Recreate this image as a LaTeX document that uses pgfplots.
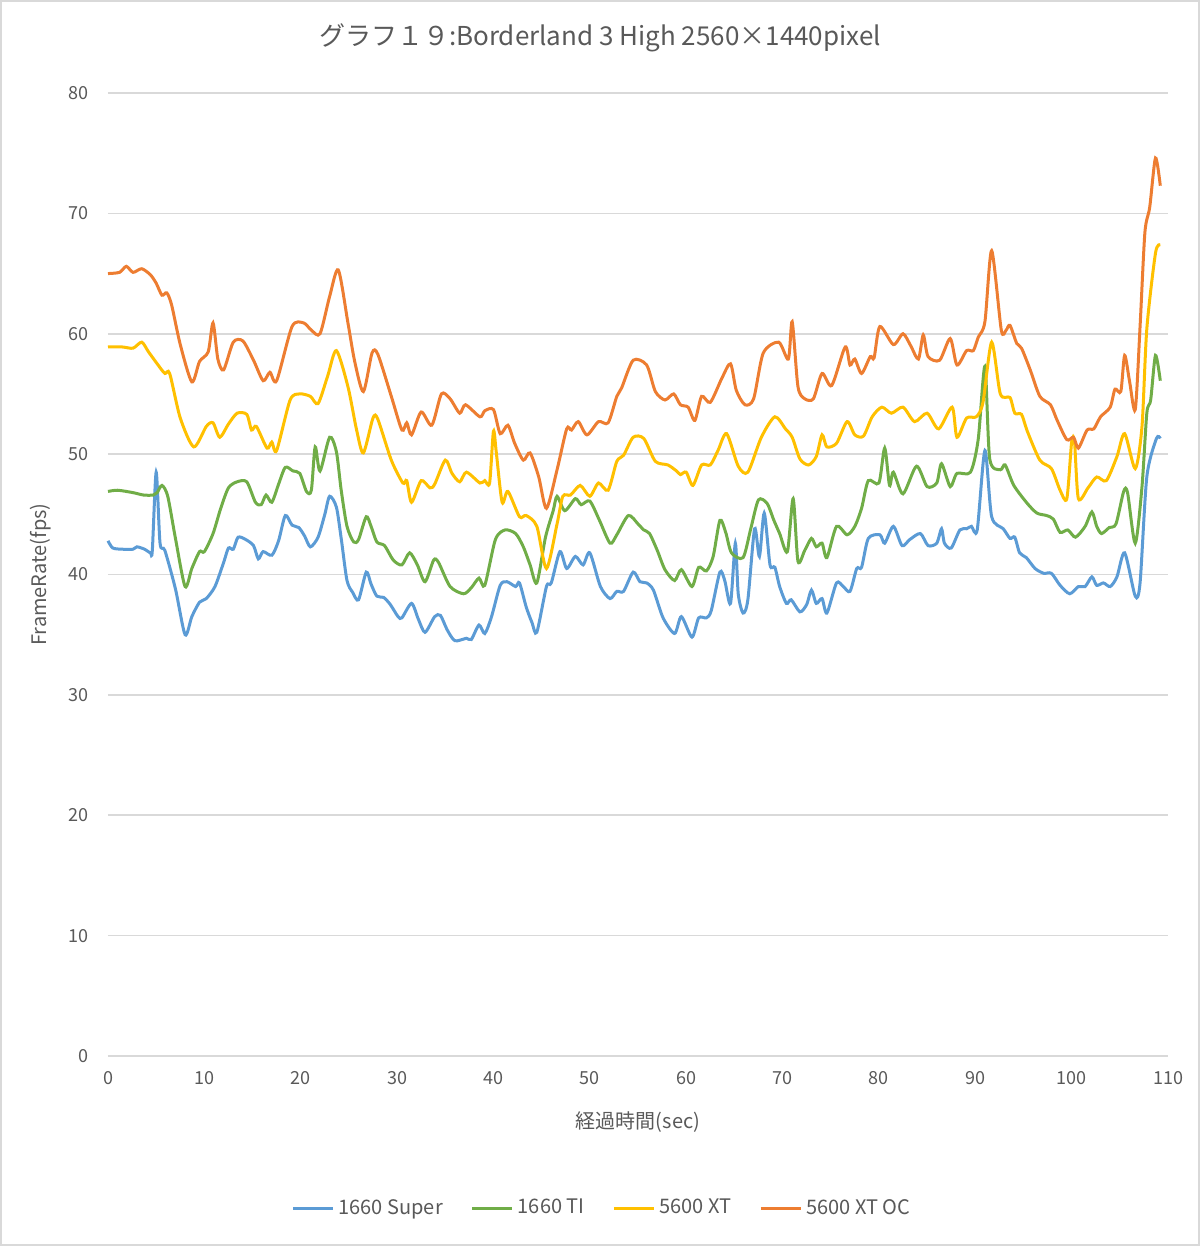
\documentclass[border=0pt]{standalone}
\usepackage{fontspec}
\setmainfont{Noto Sans CJK JP}
\usepackage{pgfplots}
\pgfplotsset{compat=1.18}

\definecolor{sBlue}{HTML}{5B9BD5}
\definecolor{sGreen}{HTML}{70AD47}
\definecolor{sYellow}{HTML}{FFC000}
\definecolor{sOrange}{HTML}{ED7D31}
\definecolor{txtGray}{HTML}{595959}
\definecolor{gridGray}{HTML}{D9D9D9}

\begin{document}
\begin{tikzpicture}
% 1 px of the reference = 0.5pt
\useasboundingbox (-54pt,-95pt) rectangle (546pt,528pt);
\draw[gridGray, line width=0.8pt] (-53.5pt,-94.5pt) rectangle (545.5pt,527.5pt);
\begin{axis}[
    at={(0pt,0pt)}, anchor=south west,
    scale only axis,
    width=530pt, height=481.5pt,
    xmin=0, xmax=110, ymin=0, ymax=80,
    xtick={0,10,...,110}, ytick={0,10,...,80},
    major tick length=0pt,
    axis x line*=bottom, axis y line*=left,
    x axis line style={draw=gridGray, line width=0.8pt, -},
    y axis line style={draw=none},
    ymajorgrids, grid style={gridGray, line width=0.8pt},
    /pgf/number format/assume math mode=true,
    ticklabel style={font=\fontsize{9}{10}\selectfont, text=txtGray},
    yticklabel style={xshift=-6pt},
    xticklabel style={yshift=-4pt},
    xlabel={経過時間(sec)},
    ylabel={FrameRate(fps)},
    label style={font=\fontsize{10}{11}\selectfont, text=txtGray},
    xlabel style={at={(axis description cs:0.5,-0.0685)}, anchor=center},
    ylabel style={at={(axis description cs:-0.064,0.5)}, anchor=center, rotate=0},
    legend columns=4,
    legend style={at={(axis description cs:0.467,-0.158)}, anchor=center, draw=none,
        font=\fontsize{10}{11}\selectfont, text=txtGray,
        /tikz/every even column/.append style={column sep=12pt}},
    legend image code/.code={\draw[#1, line width=1.5pt] (0pt,0pt) -- (20pt,0pt);},
    every axis plot/.append style={line width=1.5pt, smooth, tension=0.45, no markers},
    clip=false,
]
\addplot[sBlue] coordinates {
(0,42.8)(0.5,42.2)(1.5,42.1)(2.6,42.1)(3.0,42.3)(3.8,42.1)(4.4,41.8)(4.6,42.0)(5.0,48.5)(5.4,42.6)(5.9,42.0)(7.0,38.8)(8.0,35.0)(8.7,36.5)(9.5,37.7)(10.2,38.0)(11.1,39.0)(12.0,41.0)(12.5,42.2)(13.0,42.1)(13.5,43.1)(14.3,42.9)(15.1,42.4)(15.6,41.3)(16.1,41.9)(17.0,41.6)(17.7,42.8)(18.4,44.9)(19.1,44.1)(19.8,43.9)(20.4,43.2)(21.0,42.3)(21.8,43.1)(22.5,45.0)(23.0,46.5)(23.7,45.6)(24.2,43.0)(24.8,39.5)(25.4,38.5)(26.0,37.9)(26.8,40.2)(27.3,39.2)(27.9,38.2)(28.6,38.1)(29.3,37.5)(30.1,36.5)(30.5,36.4)(31.5,37.6)(32.2,36.3)(32.9,35.2)(33.9,36.5)(34.5,36.6)(35.2,35.4)(36.0,34.5)(37.2,34.7)(37.7,34.6)(38.5,35.8)(39.1,35.1)(39.8,36.5)(40.7,39.1)(41.4,39.4)(42.3,39.0)(42.7,39.3)(43.4,37.3)(44.0,36.0)(44.5,35.2)(45.5,39.0)(46.0,39.3)(46.9,41.9)(47.6,40.5)(48.5,41.5)(49.3,40.8)(50.0,41.8)(51.1,39.0)(52.1,38.0)(52.8,38.6)(53.5,38.6)(54.5,40.2)(55.2,39.4)(55.9,39.3)(56.6,38.7)(57.6,36.4)(58.8,35.1)(59.5,36.5)(60.6,34.8)(61.3,36.4)(62.1,36.4)(62.6,37.0)(63.5,40.2)(64.0,39.5)(64.6,37.6)(65.1,42.6)(65.4,38.4)(65.9,36.8)(66.4,37.9)(67.1,43.8)(67.6,41.5)(68.1,45.1)(68.7,40.8)(69.2,40.6)(69.7,39.0)(70.4,37.6)(70.9,37.9)(71.8,36.9)(72.5,37.5)(73.0,38.7)(73.5,37.6)(74.1,38.0)(74.6,36.8)(75.6,39.3)(76.3,39.0)(77.0,38.6)(77.7,40.5)(78.2,40.6)(78.9,43.0)(80.1,43.3)(80.6,42.6)(81.5,44.0)(82.4,42.4)(83.2,42.9)(84.3,43.4)(85.1,42.4)(86.0,42.6)(86.5,43.8)(86.8,42.6)(87.5,42.2)(88.4,43.7)(89.1,43.8)(89.6,44.0)(90.2,43.7)(91.0,50.3)(91.7,44.8)(92.9,43.8)(93.6,43.0)(94.1,43.1)(94.6,41.8)(95.3,41.4)(96.2,40.5)(97.1,40.1)(97.9,40.1)(98.8,39.1)(99.8,38.4)(100.7,39.0)(101.4,39.0)(102.1,39.8)(102.6,39.1)(103.3,39.3)(104.0,39.0)(104.7,39.8)(105.5,41.8)(106.6,38.2)(107.1,39.3)(107.8,48.1)(108.8,51.3)(109.2,51.3)
};
\addlegendentry{1660 Super}
\addplot[sGreen] coordinates {
(0,46.9)(1.0,47.0)(2.6,46.8)(3.7,46.6)(4.7,46.6)(5.1,46.8)(5.6,47.4)(6.2,46.5)(7.0,43.0)(8.0,39.0)(8.7,40.5)(9.5,41.9)(10.0,41.9)(10.9,43.4)(11.7,45.5)(12.5,47.2)(13.4,47.7)(14.4,47.7)(15.3,46.0)(15.9,45.8)(16.4,46.6)(17.0,46.0)(17.7,47.5)(18.4,48.9)(19.2,48.6)(19.9,48.4)(20.6,46.9)(21.1,47.0)(21.5,50.6)(22.0,48.6)(23.0,51.4)(23.7,50.2)(24.2,47.0)(24.8,44.0)(25.5,42.7)(26.0,42.9)(26.8,44.8)(27.3,44.0)(27.9,42.7)(28.7,42.4)(29.6,41.2)(30.5,40.8)(31.3,41.8)(32.1,40.8)(32.9,39.4)(33.8,41.2)(34.3,41.0)(35.5,39.0)(36.9,38.4)(37.7,38.9)(38.5,39.7)(39.1,39.1)(40.2,42.9)(41.2,43.7)(42.3,43.4)(43.1,42.3)(43.8,40.8)(44.5,39.3)(45.4,43.1)(46.2,45.3)(46.6,46.5)(47.4,45.3)(48.5,46.3)(49.1,45.8)(50.0,46.1)(51.0,44.5)(52.1,42.6)(52.8,43.3)(54.0,44.9)(55.0,44.2)(55.6,43.7)(56.2,43.4)(57.0,42.0)(57.8,40.4)(58.8,39.5)(59.5,40.4)(60.6,39.0)(61.3,40.6)(62.1,40.3)(62.8,41.5)(63.5,44.5)(64.1,43.5)(64.7,41.8)(65.9,41.4)(66.7,43.8)(67.5,46.2)(68.4,45.9)(69.1,44.5)(69.7,43.4)(70.5,41.9)(71.1,46.3)(71.6,41.1)(72.3,42.0)(73.0,43.0)(73.5,42.3)(74.1,42.6)(74.6,41.4)(75.6,44.0)(76.7,43.3)(77.5,44.0)(78.2,45.5)(78.9,47.8)(80.0,47.6)(80.6,50.5)(81.1,47.4)(81.5,48.5)(82.5,46.7)(83.9,49.0)(85.0,47.3)(86.0,47.6)(86.5,49.2)(87.4,47.3)(88.1,48.4)(89.5,48.5)(90.3,51.2)(91.0,57.3)(91.5,49.6)(92.6,48.7)(93.1,49.1)(94.0,47.4)(95.4,45.9)(96.4,45.1)(97.4,44.9)(98.1,44.6)(98.8,43.5)(99.6,43.7)(100.4,43.1)(101.4,44.0)(102.1,45.2)(102.6,44.0)(103.1,43.4)(103.9,43.9)(104.6,44.2)(105.4,46.9)(105.8,46.8)(106.6,42.6)(107.3,47.3)(107.8,53.4)(108.2,54.5)(108.7,58.2)(109.2,56.1)
};
\addlegendentry{1660 TI}
\addplot[sYellow] coordinates {
(0,58.9)(1.5,58.9)(2.6,58.8)(3.5,59.3)(4.2,58.5)(5.2,57.4)(5.9,56.7)(6.4,56.7)(7.5,53.0)(8.9,50.6)(10.2,52.3)(10.9,52.6)(11.6,51.4)(12.5,52.5)(13.4,53.4)(14.4,53.3)(14.9,52.0)(15.4,52.3)(16.5,50.5)(17.0,51.0)(17.5,50.3)(18.9,54.5)(19.9,55.0)(21.0,54.8)(21.8,54.2)(22.8,56.5)(23.7,58.6)(24.9,55.6)(25.8,52.0)(26.5,50.1)(27.5,53.0)(28.0,52.9)(29.4,49.5)(30.6,47.6)(31.0,47.8)(31.5,46.0)(32.5,47.8)(33.4,47.2)(33.9,47.5)(35.0,49.5)(35.7,48.4)(36.5,47.7)(37.2,48.5)(38.6,47.6)(39.1,47.8)(39.6,47.6)(40.0,51.9)(40.3,50.1)(40.9,46.0)(41.5,46.9)(42.7,44.8)(43.4,44.9)(44.5,44.0)(45.5,40.5)(46.6,44.2)(47.2,46.5)(48.0,46.6)(49.0,47.4)(50.0,46.5)(50.9,47.6)(51.9,47.0)(52.8,49.4)(53.5,49.9)(54.5,51.4)(55.6,51.3)(56.8,49.4)(58.1,49.1)(59.0,48.6)(59.4,48.3)(60.0,48.5)(60.7,47.4)(61.6,49.1)(62.5,49.1)(63.3,50.3)(64.2,51.7)(65.4,49.0)(66.4,48.5)(67.8,51.4)(69.2,53.1)(70.3,52.1)(71.0,51.4)(71.8,49.6)(72.7,49.1)(73.5,49.8)(74.1,51.6)(74.6,50.6)(75.6,50.9)(76.7,52.7)(77.5,51.6)(78.4,51.5)(79.3,53.1)(80.3,53.9)(81.3,53.4)(82.5,53.9)(83.7,52.7)(85.0,53.4)(86.2,52.1)(87.6,53.9)(88.1,51.4)(89.1,53.0)(90.1,53.1)(90.8,54.3)(91.7,59.3)(92.6,55.0)(93.6,54.7)(94.1,53.4)(94.8,53.3)(95.4,51.9)(96.7,49.5)(97.9,48.8)(98.8,47.0)(99.5,46.3)(100.0,51.0)(100.3,51.0)(100.7,46.3)(101.7,47.2)(102.6,48.1)(103.6,47.8)(104.7,49.8)(105.5,51.7)(106.6,48.8)(107.3,52.3)(107.8,60.4)(108.7,66.7)(109.2,67.4)
};
\addlegendentry{5600 XT}
\addplot[sOrange] coordinates {
(0,65.0)(1.2,65.1)(1.9,65.6)(2.6,65.1)(3.5,65.4)(4.4,64.9)(5.0,64.2)(5.6,63.2)(6.1,63.4)(6.6,62.4)(7.5,59.1)(8.7,56.0)(9.5,57.7)(10.4,58.5)(10.9,60.9)(11.4,57.9)(12.0,57.0)(13.0,59.3)(14.0,59.4)(15.1,57.8)(16.1,56.1)(16.8,56.8)(17.5,56.1)(19.1,60.6)(20.3,60.9)(21.1,60.3)(22.0,60.0)(23.0,63.1)(23.9,65.3)(24.9,60.9)(25.6,57.7)(26.5,55.2)(27.4,58.4)(28.0,58.3)(29.4,54.8)(30.5,52.0)(31.0,52.6)(31.5,51.6)(32.5,53.5)(33.6,52.4)(34.6,55.0)(35.5,54.6)(36.5,53.4)(37.1,54.1)(38.6,53.1)(39.1,53.6)(40.0,53.7)(40.7,51.7)(41.5,52.4)(42.2,50.9)(43.1,49.5)(43.8,50.1)(44.7,48.1)(45.5,45.5)(46.6,48.7)(47.6,52.1)(48.1,52.0)(48.8,52.7)(49.7,51.6)(50.9,52.7)(51.9,52.6)(52.8,54.8)(53.3,55.5)(54.5,57.8)(55.9,57.4)(56.8,55.2)(57.8,54.5)(58.7,55.0)(59.4,54.1)(60.2,53.9)(60.9,52.8)(61.6,54.8)(62.5,54.3)(63.7,56.3)(64.6,57.5)(65.2,55.3)(66.1,54.1)(67.0,54.6)(68.0,58.4)(69.6,59.3)(70.6,57.9)(71.0,61.0)(71.6,55.6)(72.3,54.6)(73.2,54.6)(74.1,56.7)(75.1,55.7)(76.5,58.9)(77.0,57.4)(77.5,57.9)(78.2,56.7)(79.1,58.1)(79.5,58.0)(80.1,60.6)(81.5,59.1)(82.5,60.0)(83.3,59.0)(84.1,57.9)(84.6,59.9)(85.1,58.1)(86.3,57.8)(87.4,59.6)(88.1,57.4)(89.1,58.6)(89.8,58.6)(90.3,59.7)(91.0,61.0)(91.7,66.9)(92.7,60.3)(93.2,60.3)(93.6,60.7)(94.3,59.2)(94.8,58.8)(95.7,57.0)(96.7,54.8)(97.8,54.1)(98.5,52.8)(99.5,51.2)(100.2,51.4)(100.7,50.5)(101.6,52.0)(102.3,52.1)(103.0,53.1)(104.0,53.9)(104.5,55.4)(105.1,55.2)(105.5,58.2)(106.0,56.1)(106.6,53.7)(107.1,60.6)(107.6,68.4)(108.1,70.5)(108.7,74.6)(109.2,72.3)
};
\addlegendentry{5600 XT OC}
\end{axis}
\node[font=\fontsize{13}{15}\selectfont, text=txtGray] at (246pt,509pt) {グラフ１９:Borderland 3 High 2560×1440pixel};
\end{tikzpicture}
\end{document}
